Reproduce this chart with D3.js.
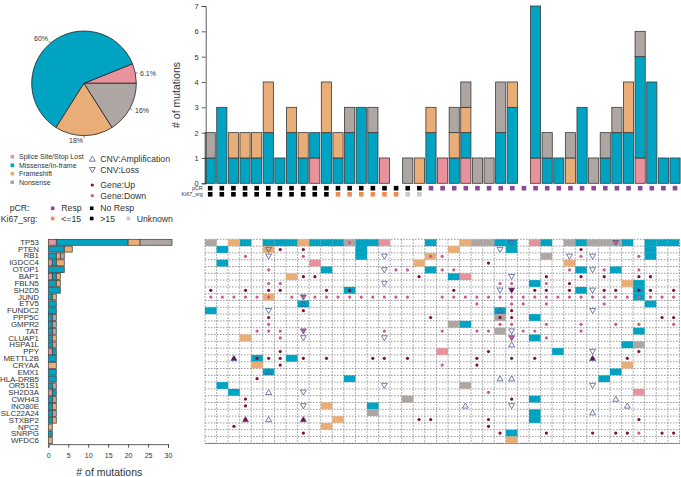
<!DOCTYPE html>
<html><head><meta charset="utf-8">
<style>
html,body{margin:0;padding:0;background:#fff}
svg{display:block}
text{font-family:"Liberation Sans",Arial,sans-serif;fill:#333}
</style>
<script src="https://cdnjs.cloudflare.com/ajax/libs/d3/7.8.5/d3.min.js"></script>
</head><body><svg id="c" width="681" height="477"></svg>
<script>
// ---------- data ----------
const typeNames = ["Splice Site/Stop Lost","Missense/In-frame","Frameshift","Nonsense"];
const typeKeys = ["S","M","F","N"];
const typeColors = ["#e8929e","#00a3c1","#e9ad78","#aea6a3"];
const piePercent = [6.1,60,18,16];
const pieLabels = ["6.1%","60%","18%","16%"];

// mutations per sample (41 samples)
const sampleSplice =    [0,0,0,0,0,0,0,0,0,1,0,0,0,0,0,1,0,0,0,0,1,0,1,0,0,0,0,0,1,0,0,0,0,0,0,0,0,1,0,0,0];
const sampleMissense =  [1,3,1,1,1,2,1,2,1,1,2,1,2,3,2,0,0,0,0,2,0,1,1,0,0,2,3,0,6,1,1,0,3,0,1,2,2,4,4,1,1];
const sampleFrameshift= [0,0,1,1,1,2,0,1,1,0,2,1,0,0,0,0,0,0,1,1,0,1,1,0,0,0,1,0,0,0,0,1,0,0,0,0,2,0,0,0,0];
const sampleNonsense =  [1,0,0,0,0,0,0,0,0,0,0,0,1,0,1,0,0,1,0,0,0,1,1,1,1,2,0,0,0,1,0,1,0,1,1,1,0,1,0,0,0];
const pcrStatus = ["N","N","N","N","N","N","N","N","N","N","N","N","N","N","N","N","N","N","N","R","R","R","R","R","R","R","R","R","R","R","R","R","R","R","R","R","R","R","R","R","R"];
const kiStatus = ["H","H","H","H","H","H","H","H","H","H","H","L","L","L","L","L","L","U","U"];

const genes = ["TP53","PTEN","RB1","IGDCC4","OTOP1","BAP1","FBLN5","SH2D5","JUND","ETV5","FUNDC2","PPP5C","GMPR2","TAT","CLUAP1","HSPA1L","PPY","METTL2B","CRYAA","EMX1","HLA-DRB5","OR51S1","SH2D3A","CWH43","INO80E","SLC22A24","STXBP2","NPC2","SNRPG","WFDC6"];
const geneSplice =    [2,0,0,1,0,1,0,0,0,0,0,0,0,0,0,0,1,0,0,0,0,0,1,0,0,0,0,0,0,0];
const geneMissense =  [18,4,2,1,4,1,2,3,1,2,2,1,1,1,1,1,1,2,0,2,2,1,1,1,1,1,1,0,1,0];
const geneFrameshift= [3,2,1,2,0,1,1,0,1,0,0,0,0,0,1,0,0,0,2,0,0,0,0,0,1,0,1,1,0,1];
const geneNonsense =  [8,0,1,0,0,0,0,0,0,0,0,1,1,1,0,1,0,0,0,0,0,1,0,1,0,1,0,0,0,0];

// oncoprint: for each type, row index -> sample indexes
const spliceCells = {0:[15,28],3:[9],5:[22],16:[20],22:[37]};
const missenseCells = {0:[3,5,6,7,9,10,11,13,14,19,25,26,29,32,36,38,39,40],1:[1,13,26,38],2:[13,38],3:[1],4:[10,19,32,35],5:[21],6:[28,37],7:[12,32,37],8:[37],9:[8,38],10:[0,25],11:[28],12:[22],13:[37],14:[28],15:[36],16:[30],17:[4,7],19:[5,35],20:[12,34],21:[1],22:[2],23:[28],24:[14],25:[28],26:[28],28:[26]};
const frameshiftCells = {0:[2,8,22],1:[5,21],2:[19],3:[18,31],5:[7],6:[36],8:[5],14:[3],18:[4,36],24:[10],26:[11],27:[10],29:[26]};
const nonsenseCells = {0:[0,12,23,24,31,33,34,35],2:[29],11:[25],12:[21],13:[25],15:[37],21:[22],23:[17],25:[14]};
const ampMarks = {9:[8],10:[25],15:[26],17:[2,33],19:[5],20:[25,26],22:[5],23:[35],24:[22,36],25:[33],26:[3,5,8]};
const lossMarks = {0:[26,35],1:[5,25],2:[5,15,31,33],4:[15,33],5:[26],6:[15],7:[25,26,33],8:[8],10:[5,33],13:[8,26],14:[8,15,26],16:[33],21:[15,33],22:[8],24:[8,26]};
const upDots = {1:[6,8,32],3:[24],5:[8,9,18,29,32,34,37,38],6:[31],7:[0,3,5,6,10,12,21,26,28,29,31,34,35,37,38,40],10:[8,26],11:[5,19,25,26,39,40],16:[6,24,37],17:[2,4,5,6,8,10,14,15,17,23,26,28,33,36],18:[6,23],20:[4],23:[3,26],24:[3],26:[3,8,18,19,24,37],27:[2,24],28:[8,25,29,33,35,36,39,40]};
const downDots = {0:[12,35],2:[3,8,19,20,32,37],4:[5,16,17,20,21,31,34,37],6:[5,6,25,26,29],8:[0,1,2,3,4,5,7,8,9,10,11,12,13,14,15,16,17,20,21,22,23,24,25,26,27,28,29,30,31,32,33,34,35,36,37,38,39,40],9:[23,26,27,29,34],12:[5,25,26,29,32,35,37,40],13:[4,5,6,8,15,20,23,24,27,28,32],14:[6,26,29],18:[20],22:[24],28:[37]};

const topTicks = [0,1,2,3,4,5,6,7];
const leftTicks = [0,5,10,15,20,25,30];

// ---------- drawing ----------
const svg = d3.select("#c");
const ink = "#333";
const cAmp = "#4e5b9c", cUp = "#7c1236", cDown = "#cb5a8c";
const cResp = "#8a4a92", cNoResp = "#000", cLow = "#ee8a52", cUnknown = "#c8c8c8";
const flat = o => Object.entries(o).flatMap(([r,cs]) => cs.map(c => [c,+r]));

// pie
const pieG = svg.append("g").attr("transform","translate(84,83.3)");
const R = 52.3;
const pie = d3.pie().sort(null).startAngle(Math.PI/2).endAngle(Math.PI/2-2*Math.PI);
const arcs = pie(piePercent);
const arc = d3.arc().innerRadius(0).outerRadius(R);
pieG.selectAll("path").data(arcs).join("path").attr("d",arc)
  .attr("fill",(d,i)=>typeColors[i]).attr("stroke","#222").attr("stroke-width",.8);
arcs.forEach((d,i)=>{
  const a=(d.startAngle+d.endAngle)/2, sx=Math.sin(a), sy=-Math.cos(a);
  pieG.append("line").attr("x1",sx*R).attr("y1",sy*R).attr("x2",sx*R*1.05).attr("y2",sy*R*1.05).attr("stroke",ink).attr("stroke-width",.6);
  const off=[[64,-10.3],[-43,-45.3],[-8,57.7],[58,27.7]][i];
  pieG.append("text").attr("x",off[0]).attr("y",off[1]).attr("text-anchor","middle").attr("dominant-baseline","central").attr("font-size",7).text(pieLabels[i]);
});

// legends
const legend = svg.append("g");
const ltext=(x,y,t,fs,anchor)=>legend.append("text").attr("x",x).attr("y",y).attr("font-size",fs).attr("text-anchor",anchor||"start").attr("dominant-baseline","central").text(t);
const lsq=(x,y,c,s)=>legend.append("rect").attr("x",x-s/2).attr("y",y-s/2).attr("width",s).attr("height",s).attr("fill",c);
[156.7,165.3,173.7,182.3].forEach((y,i)=>{lsq(12.3,y,typeColors[i],3.6);ltext(19,y,typeNames[i],7);});
const tri=d3.symbol().type(d3.symbolTriangle).size(15);
legend.append("path").attr("d",tri()).attr("transform","translate(92.3,159.5)").attr("fill","none").attr("stroke",cAmp).attr("stroke-width",.8);
legend.append("path").attr("d",tri()).attr("transform","translate(92.3,169.2) rotate(180)").attr("fill","none").attr("stroke",cAmp).attr("stroke-width",.8);
ltext(100.3,159,"CNV:Amplification",8.7);
ltext(100.3,169.7,"CNV:Loss",8.7);
legend.append("circle").attr("cx",92.3).attr("cy",185).attr("r",1.6).attr("fill",cUp);
legend.append("circle").attr("cx",92.3).attr("cy",195.7).attr("r",1.6).attr("fill",cDown);
ltext(100.3,185,"Gene:Up",8.7);
ltext(100.3,195.7,"Gene:Down",8.7);
ltext(29.5,208.3,"pCR:",8.7,"end");
ltext(37.5,218.5,"Ki67_srg:",8.7,"end");
lsq(52.7,208.3,cResp,3.6);ltext(61.3,208.3,"Resp",8.7);
lsq(91.7,208.3,cNoResp,3.6);ltext(100.3,208.3,"No Resp",8.7);
lsq(52.7,218.5,cLow,3.6);ltext(61.3,218.5,"<=15",8.7);
lsq(91.7,218.5,cNoResp,3.6);ltext(100.3,218.5,">15",8.7);
lsq(128.3,218.5,cUnknown,3.6);ltext(136.7,218.5,"Unknown",8.7);

// top stacked bars
const nS = sampleMissense.length;
const topRows = d3.range(nS).map(i=>({i,S:sampleSplice[i],M:sampleMissense[i],F:sampleFrameshift[i],N:sampleNonsense[i]}));
const xTop = d3.scaleBand().domain(d3.range(nS)).range([204.4,680.8]).paddingInner(.125).paddingOuter(.06);
const yTop = d3.scaleLinear().domain([0,7]).range([183.3,6]);
const stack = d3.stack().keys(typeKeys);
const barStroke = "#3a3a3a";
svg.append("g").selectAll("g").data(stack(topRows)).join("g").attr("fill",(d,i)=>typeColors[i])
  .selectAll("rect").data(d=>d).join("rect")
  .attr("x",d=>xTop(d.data.i)).attr("width",xTop.bandwidth())
  .attr("y",d=>yTop(d[1])).attr("height",d=>yTop(d[0])-yTop(d[1]))
  .attr("stroke",barStroke).attr("stroke-width",.8);
const yAxis = svg.append("g").attr("transform","translate(205.7,0)").call(d3.axisLeft(yTop).tickValues(topTicks).tickFormat(d3.format("d")).tickSize(4).tickPadding(3));
yAxis.select(".domain").attr("stroke",ink).attr("stroke-width",.8);
yAxis.selectAll(".tick line").attr("stroke",ink).attr("stroke-width",.8);
yAxis.selectAll("text").attr("font-size",7.5).attr("font-family",null).attr("fill",ink);
svg.append("text").attr("transform","translate(176,95) rotate(-90)").attr("text-anchor","middle").attr("dominant-baseline","central").attr("font-size",10.5).text("# of mutations");

// annotation tracks
const annSize = 4.6;
const colorOf={N:cNoResp,R:cResp,H:cNoResp,L:cLow,U:cUnknown};
svg.append("g").selectAll("rect").data(pcrStatus).join("rect")
  .attr("x",(d,i)=>xTop(i)+xTop.bandwidth()/2-annSize/2).attr("y",188.2-annSize/2).attr("width",annSize).attr("height",annSize).attr("fill",d=>colorOf[d]);
svg.append("g").selectAll("rect").data(kiStatus).join("rect")
  .attr("x",(d,i)=>xTop(i)+xTop.bandwidth()/2-annSize/2).attr("y",194.3-annSize/2).attr("width",annSize).attr("height",annSize).attr("fill",d=>colorOf[d]);
svg.append("text").attr("x",202.7).attr("y",188.2).attr("text-anchor","end").attr("dominant-baseline","central").attr("font-size",5.4).text("pCR");
svg.append("text").attr("x",202.7).attr("y",194.3).attr("text-anchor","end").attr("dominant-baseline","central").attr("font-size",5.4).text("Ki67_srg");

// left stacked bars
const leftRows = genes.map((g,i)=>({g,S:geneSplice[i],M:geneMissense[i],F:geneFrameshift[i],N:geneNonsense[i]}));
const yLeft = d3.scaleBand().domain(genes).range([238.9,444.1]).paddingInner(.13).paddingOuter(.06);
const xLeft = d3.scaleLinear().domain([0,30]).range([48.3,168]);
svg.append("g").selectAll("g").data(stack(leftRows)).join("g").attr("fill",(d,i)=>typeColors[i])
  .selectAll("rect").data(d=>d.filter(s=>s[1]>s[0])).join("rect")
  .attr("x",d=>xLeft(d[0])).attr("width",d=>xLeft(d[1])-xLeft(d[0]))
  .attr("y",d=>yLeft(d.data.g)).attr("height",yLeft.bandwidth())
  .attr("stroke",barStroke).attr("stroke-width",.7);
svg.append("g").selectAll("text").data(genes).join("text")
  .attr("x",39).attr("y",d=>yLeft(d)+yLeft.bandwidth()/2).attr("text-anchor","end").attr("dominant-baseline","central").attr("font-size",7.9).text(d=>d);
const xAxis = svg.append("g").attr("transform","translate(0,444.2)").call(d3.axisBottom(xLeft).tickValues(leftTicks).tickSize(3.5).tickPadding(5));
xAxis.select(".domain").attr("stroke",ink).attr("stroke-width",.8);
xAxis.selectAll(".tick line").attr("stroke",ink).attr("stroke-width",.8);
xAxis.selectAll("text").attr("font-size",7).attr("font-family",null).attr("fill",ink);
svg.append("text").attr("x",109.3).attr("y",471.5).attr("text-anchor","middle").attr("dominant-baseline","central").attr("font-size",10.5).text("# of mutations");

// oncoprint
const xOnco = d3.scaleBand().domain(d3.range(nS)).range([205,679.4]);
const yOnco = d3.scaleBand().domain(d3.range(genes.length)).range([239.3,443.3]);
const grid = svg.append("g").attr("stroke","#6e6e6e").attr("stroke-width",.7).attr("stroke-dasharray","1.5 1.5");
grid.selectAll(".h").data(d3.range(genes.length+1)).join("line").attr("class","h")
  .attr("x1",205).attr("x2",680).attr("y1",r=>r<genes.length?yOnco(r):443.3).attr("y2",r=>r<genes.length?yOnco(r):443.3);
grid.selectAll(".v").data(d3.range(nS+1)).join("line").attr("class","v")
  .attr("y1",239.3).attr("y2",443.3).attr("x1",c=>c<nS?xOnco(c):679.4).attr("x2",c=>c<nS?xOnco(c):679.4);
svg.append("line").attr("x1",205).attr("x2",680).attr("y1",443.5).attr("y2",443.5).attr("stroke","#555").attr("stroke-width",.6);
[spliceCells,missenseCells,frameshiftCells,nonsenseCells].forEach((cells,i)=>{
  svg.append("g").attr("fill",typeColors[i]).selectAll("rect").data(flat(cells)).join("rect")
    .attr("x",d=>xOnco(d[0])).attr("y",d=>yOnco(d[1])).attr("width",xOnco.bandwidth()).attr("height",yOnco.bandwidth());
});
const upSet=new Set(flat(upDots).map(String)), downSet=new Set(flat(downDots).map(String));
const triFill=d=>upSet.has(String(d))?cUp:downSet.has(String(d))?cDown:"none";
const cx=d=>xOnco(d[0])+xOnco.bandwidth()/2, cy=d=>yOnco(d[1])+yOnco.bandwidth()/2;
svg.append("g").selectAll("path").data(flat(ampMarks)).join("path").attr("d",tri())
  .attr("transform",d=>`translate(${cx(d)},${cy(d)+.5})`).attr("fill",triFill).attr("stroke",cAmp).attr("stroke-width",.8);
svg.append("g").selectAll("path").data(flat(lossMarks)).join("path").attr("d",tri())
  .attr("transform",d=>`translate(${cx(d)},${cy(d)-.5}) rotate(180)`).attr("fill",triFill).attr("stroke",cAmp).attr("stroke-width",.8);
svg.append("g").attr("fill",cUp).selectAll("circle").data(flat(upDots)).join("circle").attr("cx",cx).attr("cy",cy).attr("r",1.6);
svg.append("g").attr("fill",cDown).selectAll("circle").data(flat(downDots)).join("circle").attr("cx",cx).attr("cy",cy).attr("r",1.6);
</script></body></html>
